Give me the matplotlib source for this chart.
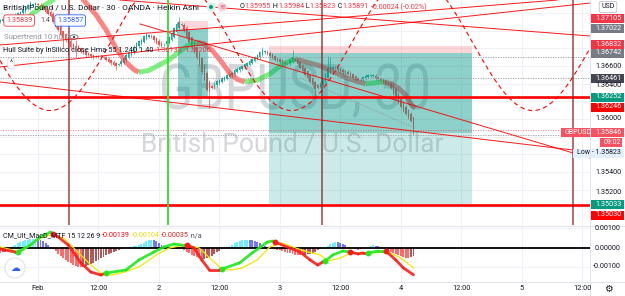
import numpy as np
import matplotlib
matplotlib.use("Agg")
import matplotlib.pyplot as plt
from matplotlib.patches import Rectangle, PathPatch, Ellipse
from matplotlib.textpath import TextPath
from matplotlib.font_manager import FontProperties
from matplotlib.transforms import Affine2D, IdentityTransform, blended_transform_factory

plt.rcParams['font.family'] = ['Roboto', 'DejaVu Sans']

# ---------------- data (prices in pips above 1.3600) ----------------
first_bar = -15
ha_close_pips = [112, 113, 112, 114, 114, 117, 118, 120, 121, 124, 127, 129, 131, 130, 131,
                 129, 128, 125, 121, 119, 117, 110, 104, 101, 95, 92, 89, 85, 81, 80,
                 82, 78, 76, 75, 72, 73, 71, 69, 70, 71, 70, 69, 67, 65, 63,
                 61, 60, 62, 66, 69, 72, 76, 78, 82, 86, 88, 90, 94, 96, 95,
                 93, 89, 86, 84, 83, 85, 88, 93, 97, 103, 108, 110, 107, 100, 93,
                 87, 81, 76, 69, 62, 53, 44, 33, 31, 35, 40, 43, 44, 46, 47,
                 50, 51, 52, 56, 57, 59, 60, 62, 63, 66, 68, 70, 72, 76, 78,
                 77, 74, 71, 69, 67, 66, 65, 63, 62, 63, 67, 70, 67, 62, 58,
                 54, 50, 46, 42, 38, 34, 35, 40, 45, 51, 58, 60, 59, 58, 55,
                 54, 53, 53, 51, 49, 46, 44, 44, 45, 47, 49, 50, 49, 49, 46,
                 45, 43, 42, 40, 40, 35, 29, 23, 18, 14, 9, 6, 2, -2, -10.9]
ha_open_first = 110
wick_default = 1.5
wick_override = {-3: (134, None), 10: (100, 80), 12: (95, 72), 15: (90, 70), 31: (None, 56),
                 56: (115, None), 68: (None, 12), 89: (81, None), 101: (78, None),
                 110: (None, 25), 115: (71, None), 116: (70, None), 149: (-1.6, -17.7)}

hull_bars = [-7, -2, 6, 12, 18, 23, 27, 31, 35, 38, 40, 44, 48, 52, 56, 60, 63, 66, 69, 73,
             76, 79, 82, 87, 92, 97, 102, 107, 112, 117, 122, 127, 130, 134, 137, 140, 143, 146, 148, 149.6]
hull_pips = [106, 120, 135, 144, 135, 118, 101, 80, 64, 56, 53, 55, 61, 67, 76, 84, 87, 85, 78, 64,
             52, 45, 42, 44, 51, 62, 68, 64, 60, 54, 47, 42, 40, 41, 42, 40, 35, 27, 17, 12]

# MACD panel (units of 0.00001)
hist_vals = [-25, -24, -20, -12,
             5, 10, 16, 22, 28, 33, 38, 42, 44, 45, 46, 44, 40, 34, 26, 15, 5,
             -8, -18, -30, -42, -54, -64, -73, -81, -88, -94, -98, -100, -99, -96, -91, -85, -78, -70,
             -62, -54, -46, -39, -32, -26,
             -20, -15, -10, -6, -3, -1,
             2, 4, 7, 10, 15, 20, 26, 32, 38, 42, 40, 34, 26, 16, 8, 2,
             -3, -5, -6, -5, -4,
             -8, -14, -20, -28, -36, -44, -50, -55, -57, -56, -52, -46, -40, -32, -24, -16, -9, -3,
             4, 10, 16, 22, 28, 33, 37, 40, 41, 40, 37, 33, 28, 22, 16, 10, 5, 1,
             -3, -6, -10, -14, -18, -22, -26, -29, -32, -35, -37, -38, -39, -37, -34, -30, -26, -20, -14, -8, -3,
             3, 10, 18, 25, 29, 28, 24, 18, 12, 6, 1,
             -4, -8, -10, -8, -4,
             2, 6, 10, 12, 11, 8, 4,
             -3, -8, -14, -20, -26, -32, -38, -44, -48, -52, -54, -50, -45]
macd_bars = [-15, -9, -8, -3, 1, 5, 6, 8, 12, 17, 21, 25, 27, 35, 40, 46, 50, 54, 57, 59,
             62, 65, 68, 72, 73, 80, 85, 91, 93, 94, 100, 104, 108, 111, 113, 114, 117, 121, 124, 127,
             129, 131, 135, 138, 142, 145, 149]
macd_vals = [-7, -22, -22, 14, 55, 80, 72, 55, 14, -78, -125, -140, -130, -114, -63, -22, 4, 19, 14, 14,
             -2, -63, -114, -114, -109, -78, -27, 29, 34, 29, -2, -22, -63, -89, -73, -68, -37, -17, -22, -32,
             -27, -27, -17, -17, -63, -104, -139]
sig_bars = [-15, -7, 1, 5, 10, 15, 21, 25, 29, 33, 40, 47, 52, 58, 64, 69, 73, 77, 81, 87,
            92, 97, 101, 107, 112, 115, 120, 124, 131, 139, 144, 149]
sig_vals = [4, -22, 50, 65, 50, -12, -89, -130, -140, -130, -99, -37, -2, 14, -2, -63, -109, -114, -104, -63,
            4, 24, 4, -22, -37, -68, -53, -27, -27, -22, -53, -104]
cross_bars = [-8, 6, 27, 59, 73, 94, 114, 124, 131, 138]
cross_up = [True, False, True, False, True, False, True, False, True, False]

# drawings
trend_lines = [((-15.1, 58.9), (219, 131.3)),
               ((-15.1, 83.8), (206, 134.7)),
               ((-15.1, 41.9), (219, -37.4)),
               ((32.5, 134.7), (219, 94.0)),
               ((40.5, 107.6), (219, -44.2))]
gray_diag = ((104, 46.4), (149.6, -10.2))
sine_trough_bar, sine_trough, sine_peak, sine_period = 4.8, 9.6, 163.6, 95.8
thick_levels = [1.36246, 1.35030]
dotted_levels = [1.36700, 1.36461, 1.35823]
last_price_line = 1.35880
vline_bars = [12.3, 112.7, 212.3]
green_vline_bar = 51.6
pos_left = dict(x0=55.6, x1=67.5, stop=1.37105, entry=1.37022, target=1.36252, cur=1.35846)
pos_right = dict(x0=91.7, x1=172.2, stop=1.36832, entry=1.36742, target=1.35033, cur=1.35846)

time_tick_bars = [0, 24, 48, 72, 96, 120, 144, 168, 192, 216]
time_tick_labels = ['Feb', '12:00', '2', '12:00', '3', '12:00', '4', '12:00', '5', '12:00']
grid_prices = [1.350, 1.352, 1.354, 1.356, 1.358, 1.360, 1.362, 1.364, 1.366, 1.368, 1.370, 1.372]

# ---------------- layout ----------------
W, H = 625, 296
fig = plt.figure(figsize=(6.25, 2.96), dpi=100)
fig.patch.set_facecolor('white')


def fx(px):
    return px / W


def fy(py):
    return 1 - py / H


PLOT_R = 590
ax = fig.add_axes([0, fy(225), PLOT_R / W, 225 / H])
mx = fig.add_axes([0, fy(282), PLOT_R / W, 56 / H])
for a in (ax, mx):
    a.set_axis_off()


def price_at(py):
    return 1.366 - (py - 66) / 8830.0

xlo, xhi = -38 / 2.52, (PLOT_R - 38) / 2.52
ax.set_xlim(xlo, xhi)
ax.set_ylim(price_at(225), price_at(0))
mx.set_xlim(xlo, xhi)
mx.set_ylim((247.7 - 282) * 5.128, (247.7 - 226) * 5.128)


def P(p):
    return 1.36 + np.asarray(p, dtype=float) / 1e4


# grid
for b in time_tick_bars:
    ax.axvline(b, color='#eef0f5', lw=0.8, zorder=0)
    mx.axvline(b, color='#eef0f5', lw=0.8, zorder=0)
for gp in grid_prices:
    ax.axhline(gp, color='#f0f2f7', lw=0.8, zorder=0)
for gv in (100, -100):
    mx.axhline(gv, color='#f0f2f7', lw=0.8, zorder=0)


def watermark(axis, s, x0, x1, ytop, ybase, alpha):
    fp = FontProperties(family='Roboto')
    tp = TextPath((0, 0), s, size=100, prop=fp)
    cap = TextPath((0, 0), 'H', size=100, prop=fp).get_extents()
    ext = tp.get_extents()
    sx = (x1 - x0) / ext.width
    sy = (ybase - ytop) / cap.height
    tr = Affine2D().translate(-ext.x0, 0).scale(sx, sy).translate(x0, H - ybase)
    path = tr.transform_path(tp)
    patch = PathPatch(path, transform=IdentityTransform(), facecolor='#787b86',
                      edgecolor='none', alpha=alpha, zorder=0.5)
    axis.add_artist(patch)

watermark(ax, 'GBPUSD, 30', 162, 428, 64, 109, 0.30)
watermark(ax, 'British Pound / U.S. Dollar', 143, 443, 133, 152, 0.30)

# Heikin Ashi candles
n = len(ha_close_pips)
bars = np.arange(first_bar, first_bar + n)
c = np.array(ha_close_pips, dtype=float)
o = np.empty(n)
o[0] = ha_open_first
for k in range(1, n):
    o[k] = (o[k - 1] + c[k - 1]) / 2
hi = np.maximum(o, c) + wick_default
lo = np.minimum(o, c) - wick_default
for b, (h_, l_) in wick_override.items():
    k = b - first_bar
    if h_ is not None:
        hi[k] = h_
    if l_ is not None:
        lo[k] = l_
cols = np.where(c >= o, '#26a69a', '#ef5350')
ax.vlines(bars, P(lo), P(hi), colors=cols, lw=0.5, zorder=3)
body_lo = np.minimum(o, c)
body_h = np.maximum(np.abs(c - o), 0.6)
ax.bar(bars, body_h / 1e4, bottom=P(body_lo), width=0.58, color=cols, lw=0, zorder=3)

# Hull suite band
hb = np.array(hull_bars, dtype=float)
hp = np.array(hull_pips, dtype=float)
seg_up = np.diff(hp) >= 0
start = 0
for k in range(1, len(seg_up) + 1):
    if k == len(seg_up) or seg_up[k] != seg_up[start]:
        colr = '#19e019' if seg_up[start] else '#ff2020'
        ax.plot(hb[start:k + 1], P(hp[start:k + 1]), color=colr, lw=3.6, alpha=0.55,
                solid_capstyle='butt', zorder=3.5)
        start = k

# position boxes
for pos in (pos_left, pos_right):
    w = pos['x1'] - pos['x0']
    ax.add_patch(Rectangle((pos['x0'], pos['entry']), w, pos['stop'] - pos['entry'],
                           facecolor='#f23645', alpha=0.2, lw=0, zorder=4))
    ax.add_patch(Rectangle((pos['x0'], pos['target']), w, pos['entry'] - pos['target'],
                           facecolor='#009688', alpha=0.2, lw=0, zorder=4))
    lo_dark = max(pos['cur'], pos['target'])
    ax.add_patch(Rectangle((pos['x0'], lo_dark), w, pos['entry'] - lo_dark,
                           facecolor='#009688', alpha=0.3, lw=0, zorder=4))

for lvl in dotted_levels:
    ax.axhline(lvl, color='#9598a1', lw=0.6, ls=(0, (1.5, 1.5)), zorder=4.5)
ax.axhline(last_price_line, color='#f23645', lw=0.6, ls=(0, (1.5, 1.5)), alpha=0.6, zorder=4.5)
ax.plot([gray_diag[0][0], gray_diag[1][0]], P([gray_diag[0][1], gray_diag[1][1]]),
        color='#9598a1', lw=0.6, ls=(0, (1.5, 1.5)), zorder=4.5)

for (b0, p0), (b1, p1) in trend_lines:
    ax.plot([b0, b1], P([p0, p1]), color='#ff0000', lw=0.7, alpha=0.9, zorder=5)

# sine-line drawing
sb = np.linspace(xlo, xhi, 600)
amp = (sine_peak - sine_trough) / 2
sp = sine_trough + amp * (1 - np.cos(2 * np.pi * (sb - sine_trough_bar) / sine_period))
ax.plot(sb, P(sp), color='#ff0000', lw=0.8, ls=(0, (4, 3)), zorder=5)

for lvl in thick_levels:
    ax.axhline(lvl, color='#ff0000', lw=1.9, zorder=6)

for vb in vline_bars:
    ax.axvline(vb, color='#8b1a1a', lw=1.2, alpha=0.75, zorder=6)
ax.axvline(green_vline_bar, color='#33dd33', lw=1.3, zorder=6)

# ---------------- MACD panel ----------------
hv = np.array(hist_vals, dtype=float)
prev = np.concatenate([[hv[0]], hv[:-1]])
hcols = np.where(hv >= 0, np.where(hv >= prev, '#22e5ff', '#2c2cff'),
                 np.where(hv <= prev, '#ff1a1a', '#8b0000'))
mx.bar(bars, hv, width=0.75, color=hcols, alpha=0.65, lw=0, zorder=2)
mx.axhline(0, color='black', lw=1.3, zorder=3)
mx.plot(sig_bars, sig_vals, color='#f2e600', lw=0.9, zorder=4)
mb = np.array(macd_bars, dtype=float)
mv = np.array(macd_vals, dtype=float)
state_up = False
for k in range(len(mb) - 1):
    for cb, cu in zip(cross_bars, cross_up):
        if cb <= mb[k]:
            state_up = cu
    mx.plot(mb[k:k + 2], mv[k:k + 2], color='#1fe81f' if state_up else '#ff1a1a', lw=2.0,
            alpha=0.9, solid_capstyle='round', zorder=5)
for cb, cu in zip(cross_bars, cross_up):
    k = macd_bars.index(cb)
    mx.plot(cb, macd_vals[k], 'o', ms=3.2, color='#1fe81f' if cu else '#ff1a1a', zorder=6)


def fline(x0, y0, x1, y1, color='#e0e3eb', lw=0.7):
    fig.add_artist(plt.Line2D([fx(x0), fx(x1)], [fy(y0), fy(y1)], color=color, lw=lw,
                              transform=fig.transFigure))

fline(PLOT_R, 0, PLOT_R, 296)
fline(0, 225.5, 625, 225.5)
fline(0, 282, 625, 282)

# ---------------- texts ----------------
renderer = fig.canvas.get_renderer()


def chain(x, y, parts, size, **kw):
    for s, color in parts:
        t = fig.text(fx(x), fy(y), s, color=color, fontsize=size, va='center', ha='left', **kw)
        x += t.get_window_extent(renderer).width
    return x

DARK = '#131722'
RED = '#f23645'
chain(3, 7, [('British Pound / U.S. Dollar · 30 · OANDA · Heikin Ashi', DARK)], 6)
fig.add_artist(Ellipse((fx(211), fy(7)), 9 / W, 9 / H, transform=fig.transFigure,
                       facecolor='#d5f0eb', edgecolor='none'))
fig.add_artist(Ellipse((fx(211), fy(7)), 4 / W, 4 / H, transform=fig.transFigure,
                       facecolor='#089981', edgecolor='none'))
fig.add_artist(Ellipse((fx(222), fy(7)), 9 / W, 9 / H, transform=fig.transFigure,
                       facecolor='#fbd5da', edgecolor='none'))
fig.text(fx(222), fy(7.3), '≋', color='#e0507a', fontsize=5, ha='center', va='center',
         family='DejaVu Sans')
chain(240, 7, [('O', DARK), ('1.35955', RED), (' H', DARK), ('1.35984', RED), (' L', DARK),
               ('1.35823', RED), (' C', DARK), ('1.35891', RED), (' -0.00024 (-0.02%)', RED)], 5.2)

fig.text(fx(6), fy(20.5), '1.35839', color=RED, fontsize=5.2, va='center', ha='left',
         bbox=dict(boxstyle='round,pad=0.3', fc='white', ec=RED, lw=0.6))
fig.text(fx(40), fy(20.5), '1.4', color='#50535e', fontsize=5.2, va='center', ha='left')
fig.text(fx(57), fy(20.5), '1.35857', color='#2962ff', fontsize=5.2, va='center', ha='left',
         bbox=dict(boxstyle='round,pad=0.3', fc='white', ec='#2962ff', lw=0.6))
chain(4, 37, [('Supertrend 10 hl2 3', '#9598a1')], 5.6)
fig.add_artist(Ellipse((fx(74), fy(37)), 8 / W, 4.5 / H, transform=fig.transFigure,
                       facecolor='none', edgecolor='#50535e', lw=0.5))
fig.add_artist(Ellipse((fx(74), fy(37)), 2.5 / W, 2.5 / H, transform=fig.transFigure,
                       facecolor='#50535e', edgecolor='none'))
chain(3, 51, [('Hull Suite by InSilico close Hma 55 1.240 1.40 ', DARK), ('1.36133', RED),
              (' ', DARK), ('1.36206', RED)], 5.3)
fig.text(fx(11), fy(63.5), '^', color=DARK, fontsize=5, va='center', ha='center',
         bbox=dict(boxstyle='round,pad=0.25', fc='white', ec='#d1d4dc', lw=0.5))

chain(3, 235.5, [('CM_Ult_MacD_MTF 15 12 26 9 ', DARK), ('-0.00139', '#ff0000'), (' ', DARK),
                 ('-0.00104', '#e8dc00'), (' ', DARK), ('-0.00035', '#c62828'), (' n/a', '#50535e')], 5.1)

fig.add_artist(Ellipse((fx(15), fy(268)), 20 / W, 20 / H, transform=fig.transFigure,
                       facecolor='white', edgecolor='#e0e3eb', lw=0.8))
fig.text(fx(15), fy(268), '☁', color='#2962ff', fontsize=7, ha='center', va='center',
         family='DejaVu Sans')

tt = blended_transform_factory(mx.transData, fig.transFigure)
for b, s in zip(time_tick_bars, time_tick_labels):
    fig.text(b, fy(289), s, transform=tt, fontsize=5.3, color=DARK, ha='center', va='center')
fig.text(fx(608), fy(289), '⚙', fontsize=7, color=DARK, ha='center', va='center',
         family='DejaVu Sans')


def plabel(py, s, bg=None, fg=DARK, x0=591, x1=624, size=5.2, xt=None):
    if bg is not None:
        fig.add_artist(Rectangle((fx(x0), fy(py + 4.5)), (x1 - x0) / W, 9 / H,
                                 transform=fig.transFigure, facecolor=bg, edgecolor='none'))
    fig.text(fx(xt if xt is not None else x0 + 4), fy(py), s, color=fg, fontsize=size,
             va='center', ha='left')

price_labels = [(66, '1.36600'), (85.5, '1.36400'), (119, '1.36000'), (173, '1.35400'), (192, '1.35200'),
                (228, '0.00100'), (248, '0.00000'), (267, '-0.00100')]
for py, s in price_labels:
    plabel(py, s, x0=591 if not s.startswith('-') else 589)

box_labels = [(18.5, '1.37105', '#f23645'), (28.5, '1.37022', '#787b86'), (44, '1.36832', '#f23645'),
              (53, '1.36742', '#787b86'), (78, '1.36461', '#434651'), (97, '1.36252', '#089981'),
              (107, '1.36246', '#ff0000'), (133, '1.35846', '#f7525f'), (204, '1.35033', '#089981'),
              (215, '1.35030', '#ff0000')]
for py, s, bg in box_labels:
    plabel(py, s, bg=bg, fg='white')
plabel(133, 'GBPUSD', bg='#f7525f', fg='white', x0=561, x1=590, size=5)
plabel(143, '09:02', bg='#f7525f', fg='white', x0=600, x1=622, size=5)
plabel(153, 'Low - 1.35823', bg='#e3effd', fg=DARK, x0=573, x1=624, size=5)
fig.text(fx(608), fy(7), 'USD', color=DARK, fontsize=5, ha='center', va='center',
         bbox=dict(boxstyle='round,pad=0.3', fc='white', ec='#b2b5be', lw=0.5))

fig.savefig('out.png', dpi=100)
